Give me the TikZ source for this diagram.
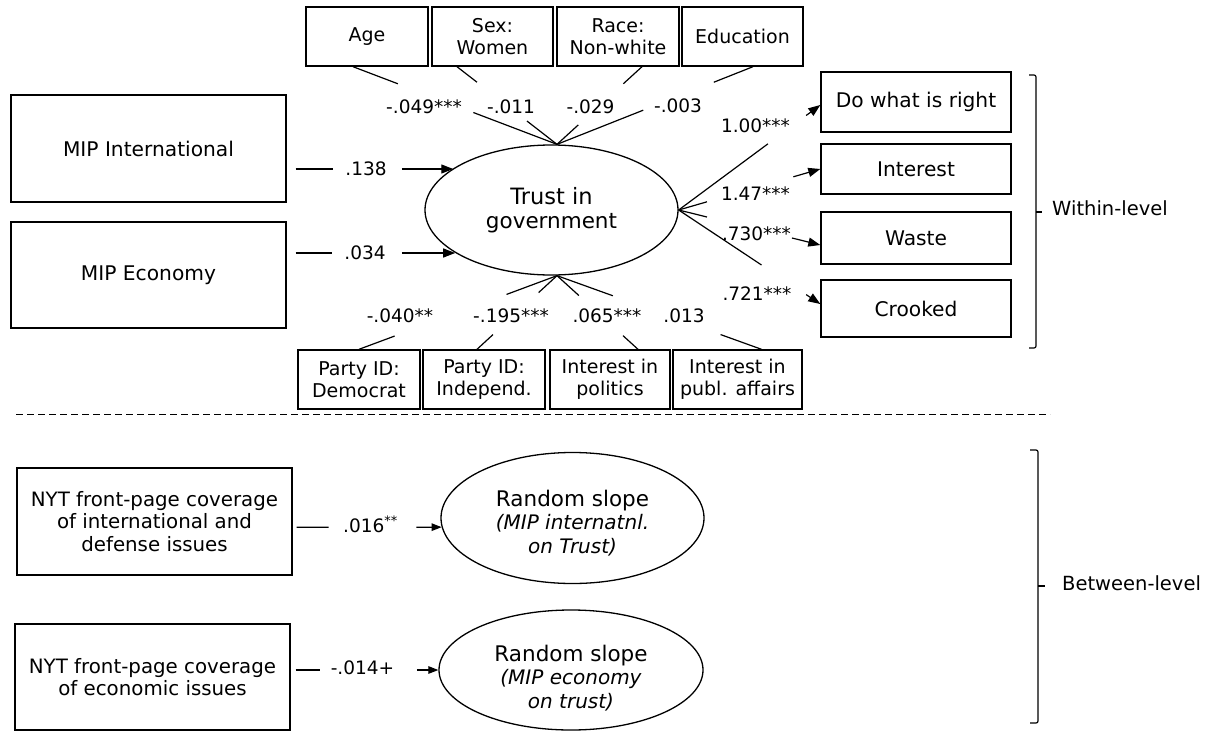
\documentclass[tikz,border=0pt]{standalone}
\usepackage{fontspec}
\setmainfont{DejaVu Sans}
\usetikzlibrary{shapes.geometric,arrows.meta,calc}

% a connector interrupted by a gap: plain part from #2, tipped part ending at #3
\newcommand\splitlink[5]{%
  \draw[link] (#2) -- ($(#2)!#4!(#3)$);
  \draw[#1] ($(#2)!#5!(#3)$) -- (#3);}

\begin{document}
\begin{tikzpicture}[x=1pt,y=-1pt,
  box/.style={draw,line width=1.4pt,inner sep=0pt,align=center,
    font=\fontsize{19}{21.5}\selectfont},
  bigbox/.style={box,font=\fontsize{20.2}{23}\selectfont},
  latent/.style={draw,ellipse,line width=1.3pt,inner sep=0pt,align=center,
    font=\fontsize{21.5}{23.5}\selectfont},
  coef/.style={inner sep=0pt,font=\fontsize{18.5}{21}\selectfont},
  link/.style={line width=1.2pt},
  arr/.style={link,-{Triangle[length=12pt,width=9pt]}},
  sarr/.style={link,-{Triangle[length=10pt,width=7.5pt]}},
  level/.style={inner sep=0pt,anchor=west,font=\fontsize{19.5}{22}\selectfont},
  brace/.style={line width=1.2pt,rounded corners=2pt},
]
\useasboundingbox (0,0) rectangle (1210,731);

% ---------- within level ----------
\node[box,minimum width=122pt,minimum height=59pt] (age)  at (367,36.5)   {Age};
\node[box,minimum width=121pt,minimum height=59pt] (sex)  at (492.5,36.5) {Sex:\\Women};
\node[box,minimum width=122pt,minimum height=59pt] (race) at (618,36.5)   {Race:\\Non-white};
\node[box,minimum width=121pt,minimum height=59pt] (edu)  at (742.5,36.5) {Education};

\node[bigbox,minimum width=275pt,minimum height=107pt] (mipint) at (148.5,148.5) {MIP International};
\node[bigbox,minimum width=275pt,minimum height=106pt] (mipeco) at (148.5,275)   {MIP Economy};

\node[latent,minimum width=253pt,minimum height=130pt] (trust) at (551.5,210)
  {\fontsize{22.5}{24}\selectfont Trust in\\government};

\node[bigbox,minimum width=190pt,minimum height=60pt] (odo)    at (916,102)   {Do what is right};
\node[bigbox,minimum width=190pt,minimum height=50pt] (oint)   at (916,169)   {Interest};
\node[bigbox,minimum width=190pt,minimum height=52pt] (owaste) at (916,238)   {Waste};
\node[bigbox,minimum width=190pt,minimum height=57pt] (ocrook) at (916,308.5) {Crooked};

\node[box,minimum width=122pt,minimum height=59pt] (dem) at (359,379.5)   {Party ID:\\Democrat};
\node[box,minimum width=122pt,minimum height=59pt] (ind) at (484,379.5)   {Party ID:\\Independ.};
\node[box,minimum width=120pt,minimum height=59pt] (pol) at (610,379.5)   {Interest in\\politics};
\node[box,minimum width=129pt,minimum height=59pt] (aff) at (737.5,379.5) {Interest in\\publ. affairs};

% coefficients
\node[coef,anchor=base] (ca) at (424,113)   {-.049***};
\node[coef,anchor=base] (cs) at (511,113)   {-.011};
\node[coef,anchor=base] (cr) at (590.5,113) {-.029};
\node[coef,anchor=base] (ce) at (678,112)   {-.003};

\node[coef] (c138) at (366,169) {.138};
\node[coef] (c034) at (365,253) {.034};

\node[coef,anchor=base] (c100) at (755.5,132) {1.00***};
\node[coef,anchor=base] (c147) at (755.5,200) {1.47***};
\node[coef,anchor=base] (c730) at (756.5,240) {.730***};
\node[coef,anchor=base] (c721) at (757,300)   {.721***};

\node[coef,anchor=base] (cd) at (400,322) {-.040**};
\node[coef,anchor=base] (ci) at (511,322) {-.195***};
\node[coef,anchor=base] (cp) at (607,322) {.065***};
\node[coef,anchor=base] (cf) at (684,322) {.013};

% predictors on the left
\draw[link] ($(mipint.east |- c138)+(9,0)$) -- ($(c138.west)+(-12,0)$);
\draw[arr]  ($(c138.east)+(15,0)$) -- (c138 -| trust.157);
\draw[link] ($(mipeco.east |- c034)+(9,0)$) -- ($(c034.west)+(-12,0)$);
\draw[arr]  ($(c034.east)+(16,0)$) -- (c034 -| trust.204);

% controls above and below
\coordinate (ttop) at ($(trust.north)+(5.5,0)$);
\coordinate (tbot) at ($(trust.south)+(5.5,0)$);
\coordinate (aA) at ($(age.south)+(-14,0)$);
\coordinate (sA) at ($(sex.south)+(-35.5,0)$);
\coordinate (rA) at ($(race.south)+(24,0)$);
\coordinate (eA) at ($(edu.south)+(10.5,0)$);
\splitlink{link}{aA}{ttop}{0.22}{0.59}
\splitlink{link}{sA}{ttop}{0.20}{0.70}
\splitlink{link}{rA}{ttop}{0.22}{0.75}
\splitlink{link}{eA}{ttop}{0.20}{0.56}

\coordinate (dA) at (dem.north);
\coordinate (iA) at ($(ind.north)+(-7,0)$);
\coordinate (pA) at ($(pol.north)+(28,0)$);
\coordinate (fA) at ($(aff.north)+(24,0)$);
\splitlink{link}{dA}{tbot}{0.18}{0.745}
\splitlink{link}{iA}{tbot}{0.20}{0.77}
\splitlink{link}{pA}{tbot}{0.185}{0.73}
\splitlink{link}{fA}{tbot}{0.20}{0.727}

% indicators on the right
\coordinate (doB) at ($(odo.west)+(0,3)$);
\coordinate (inB) at (oint.west);
\coordinate (waB) at ($(owaste.west)+(0,7)$);
\coordinate (crB) at ($(ocrook.west)+(0,-4.5)$);
\splitlink{arr}{trust.east}{doB}{0.63}{0.90}
\splitlink{arr}{trust.east}{inB}{0.20}{0.81}
\splitlink{arr}{trust.east}{waB}{0.20}{0.80}
\splitlink{arr}{trust.east}{crB}{0.585}{0.90}

% bracket
\draw[brace] (1029,75) -- (1036,75) -- (1036,348) -- (1029,348);
\draw[brace] (1036,212) -- (1042,212);
\node[level] (within) at (1052,208) {Within-level};

% ---------- divider ----------
\draw[line width=1pt,dash pattern=on 7pt off 4pt] (16,414) -- (1050,414);

% ---------- between level ----------
\node[box,minimum width=275pt,minimum height=107pt,font=\fontsize{19.8}{22.5}\selectfont] (nyt1) at (154.5,521.5)
  {NYT front-page coverage\\of international and\\defense issues};
\node[box,minimum width=275pt,minimum height=106pt,font=\fontsize{19.8}{22.5}\selectfont] (nyt2) at (152.5,677)
  {NYT front-page coverage\\of economic issues};

\node[latent,minimum width=263pt,minimum height=131pt] (rs1) at (572.5,518)
  {\raisebox{-7pt}[\height][\depth]{\begin{tabular}{@{}c@{}}Random slope\\
   {\fontsize{20}{23}\selectfont\itshape (MIP internatnl.}\\
   {\fontsize{20}{23}\selectfont\itshape on Trust)}\end{tabular}}};
\node[latent,minimum width=264pt,minimum height=120pt] (rs2) at (571,670)
  {\raisebox{-10pt}[\height][\depth]{\begin{tabular}{@{}c@{}}Random slope\\
   {\fontsize{20}{23}\selectfont\itshape (MIP economy}\\
   {\fontsize{20}{23}\selectfont\itshape on trust)}\end{tabular}}};

\node[coef,anchor=base west] (c016) at (343,532) {.016\textsuperscript{**}};
\node[coef] (c014) at (362.5,668) {-.014+};

\coordinate (n1A) at ($(nyt1.east |- rs1.184)+(4,0)$);
\coordinate (n2A) at ($(nyt2.east |- rs2.west)+(5,0)$);
\splitlink{sarr}{n1A}{rs1.184}{0.22}{0.826}
\splitlink{sarr}{n2A}{rs2.west}{0.17}{0.85}

% bracket
\draw[brace] (1030,450) -- (1038,450) -- (1038,723) -- (1030,723);
\draw[brace] (1038,586) -- (1045,586);
\node[level] (between) at (1062,583) {Between-level};
\end{tikzpicture}
\end{document}
